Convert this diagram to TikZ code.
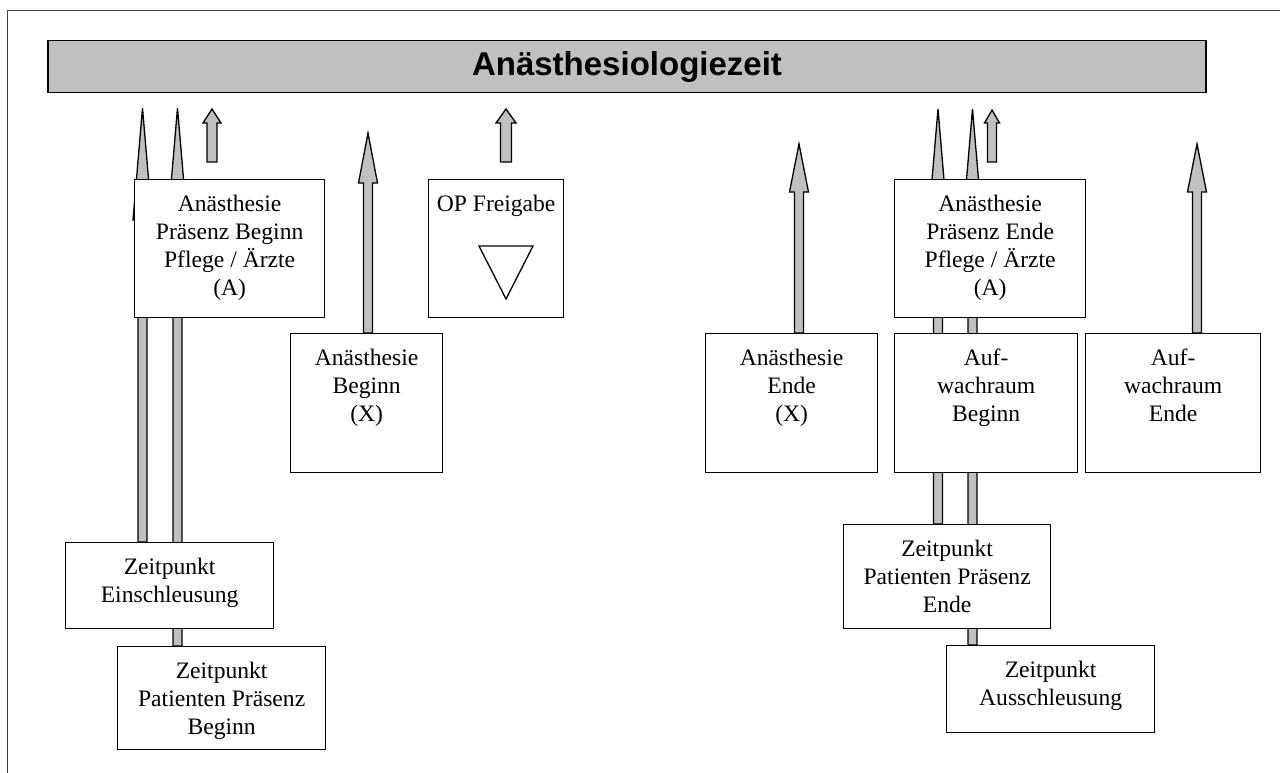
\documentclass[tikz,border=0pt]{standalone}
\usepackage{fontspec}
\setmainfont{Liberation Serif}
\newfontfamily\titlefont{Liberation Sans}
\usetikzlibrary{calc}
\pgfdeclarelayer{background}
\pgfsetlayers{background,main}
\definecolor{barfill}{HTML}{C0C0C0}
\definecolor{framecol}{HTML}{404040}
\newcommand\tbox[6]{%
  \node[box, anchor=north west, minimum width=#4-#2, minimum height=#5-#3] (#1) at (#2,#3) {};
  \node[lbl, anchor=north] (#1-t) at ($(#1.north)+(0,16)$) {#6};}
% #1 tip coordinate, #2 bottom reference, #3 head length, #4 head width, #5 shaft width
\newcommand\barrow[5]{%
  \draw[blockarrow] let \p1=(#1), \p2=(#2) in
    (\x1-#5pt/2,\y2) -- (\x1-#5pt/2,\y1-#3pt) -- (\x1-#4pt/2,\y1-#3pt) -- (\p1)
    -- (\x1+#4pt/2,\y1-#3pt) -- (\x1+#5pt/2,\y1-#3pt) -- (\x1+#5pt/2,\y2) -- cycle;}
\begin{document}
\begin{tikzpicture}[x=1pt,y=-1pt,
  box/.style={draw=black, line width=1.3pt, fill=white, rectangle, inner sep=0pt},
  lbl/.style={align=center, inner sep=0pt, font=\fontsize{23.6}{28}\selectfont},
  blockarrow/.style={draw=black, fill=barfill, line width=1.3pt, line join=miter},
  bar/.style={draw=black, fill=barfill, line width=1.6pt, rectangle, inner sep=0pt,
    minimum width=1158, minimum height=52, font=\titlefont\bfseries\fontsize{33}{38}\selectfont},
  frame/.style={draw=framecol, line width=1pt}]
\useasboundingbox (0,0) rectangle (1280,773);
\draw[frame] (7.5,773) -- (7.5,10.5) -- (1280,10.5);
\node[bar] (bar) at (627,66.7) {Anästhesiologiezeit};

% boxes
\tbox{pb}{134}{179}{324}{317}{Anästhesie\\Präsenz Beginn\\Pflege / Ärzte\\(A)}
\tbox{op}{428}{179}{563}{317}{OP Freigabe}
\draw[line width=1.3pt] (479,246) -- (533,246) -- (506,299) -- cycle;
\tbox{ab}{290}{333}{442}{472}{Anästhesie\\Beginn\\(X)}
\tbox{ae}{705}{333}{877}{472}{Anästhesie\\Ende\\(X)}
\tbox{pe}{894}{179}{1085}{317}{Anästhesie\\Präsenz Ende\\Pflege / Ärzte\\(A)}
\tbox{awb}{894}{333}{1077}{472}{Auf-\\wachraum\\Beginn}
\tbox{awe}{1085}{333}{1260}{472}{Auf-\\wachraum\\Ende}
\tbox{ein}{65}{542}{273}{628}{Zeitpunkt\\Einschleusung}
\tbox{ppb}{117}{646}{325}{749}{Zeitpunkt\\Patienten Präsenz\\Beginn}
\tbox{ppe}{843}{524}{1050}{628}{Zeitpunkt\\Patienten Präsenz\\Ende}
\tbox{aus}{946}{645}{1154}{732}{Zeitpunkt\\Ausschleusung}

% arrow tips and free ends
\coordinate (t1) at (142.5,108);
\coordinate (t2) at (177.5,108);
\coordinate (t3) at (212,109);   \coordinate (b3) at (212,162);
\coordinate (t4) at (368,133);
\coordinate (t5) at (506,109);   \coordinate (b5) at (506,162);
\coordinate (t6) at (799,144);
\coordinate (t7) at (938,109);
\coordinate (t8) at (972.5,109);
\coordinate (t9) at (992,110);   \coordinate (b9) at (992,162);
\coordinate (t10) at (1197,144);

\begin{pgfonlayer}{background}
\barrow{t1}{ein.north}{112}{19}{9}
\barrow{t2}{ppb.north}{112}{19}{9}
\barrow{t3}{b3}{14}{18}{10}
\barrow{t4}{ab.north}{50}{19}{9}
\barrow{t5}{b5}{14}{20}{11}
\barrow{t6}{ae.north}{48}{19}{9}
\barrow{t7}{ppe.north}{112}{19}{9}
\barrow{t8}{aus.north}{112}{19}{9}
\barrow{t9}{b9}{13}{15}{9}
\barrow{t10}{awe.north}{48}{19}{9}
\end{pgfonlayer}
\end{tikzpicture}
\end{document}
